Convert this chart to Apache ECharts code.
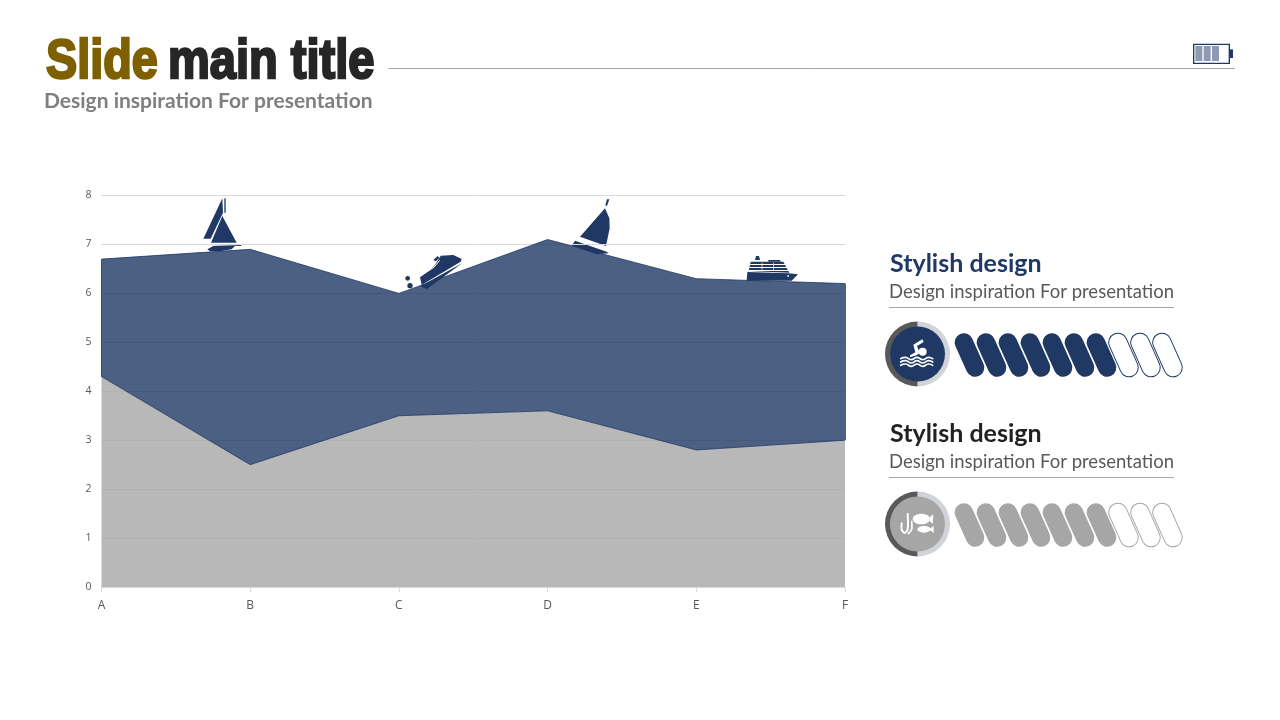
<!DOCTYPE html>
<html><head><meta charset="utf-8">
<style>html,body{margin:0;padding:0;background:#fff}#c{width:1280px;height:720px}</style>
<script src="https://cdn.jsdelivr.net/npm/echarts@6/dist/echarts.min.js"></script></head>
<body><div id="c"></div>
<script>
const categories = ['A','B','C','D','E','F'];
const greyValues = [4.3,2.5,3.5,3.6,2.8,3.0];
const blueValues = [2.4,4.4,2.5,3.5,3.5,3.2];
const yTicks = [0,1,2,3,4,5,6,7,8];
const pillRows = [
  {filled:7,total:10,color:'#1f3864',title:'Stylish design',titleColor:'#1f3864',sub:'Design inspiration For presentation',fill:'#1f3864',dy:0},
  {filled:7,total:10,color:'#a6a6a6',title:'Stylish design',titleColor:'#222222',sub:'Design inspiration For presentation',fill:'#a6a6a6',dy:170}
];
const NAVY='#1f3864';
const chart = echarts.init(document.getElementById('c'),null,{renderer:'canvas'});
const poly=(points,fill)=>({type:'polygon',shape:{points},style:{fill:fill||NAVY}});
const zoomGroup=(ox,oy,children)=>({type:'group',x:ox,y:oy,scaleX:1/3,scaleY:1/3,children});
const rect=(x,y,w,h,fill)=>({type:'rect',shape:{x,y,width:w,height:h},style:{fill:fill||NAVY}});
const circ=(cx,cy,r,fill)=>({type:'circle',shape:{cx,cy,r},style:{fill:fill||NAVY}});
const stroked=(points,stroke,lw,smooth)=>({type:'polyline',shape:{points,smooth:smooth||0},style:{fill:null,stroke,lineWidth:lw,lineJoin:'round',lineCap:'round'}});
const wave=(y)=>stroked([[62,y],[77,y-4],[94,y+3],[111,y-4],[128,y+3],[145,y-4],[158,y]],'#fff',5,0.5);
const txt=(x,y,text,font,fill,sx,extra)=>({type:'text',x,y,scaleX:sx||1,style:Object.assign({text,font,fill,textVerticalAlign:'middle'},extra||{})});

const g=[];
// header
g.push(txt(46,63,'Slide','bold 56px "Liberation Sans"','#7f6000',0.835,{stroke:'#7f6000',lineWidth:2.5}));
g.push(txt(168,63,'main title','bold 56px "Liberation Sans"','#262626',0.84,{stroke:'#262626',lineWidth:2.5}));
g.push(txt(44,101,'Design inspiration For presentation','bold 21px Lato','#7f7f7f',1));
g.push({type:'line',shape:{x1:388,y1:68.5,x2:1235,y2:68.5},style:{stroke:'#a6a6a6',lineWidth:1}});
// battery
g.push(zoomGroup(1170,30,[
  {type:'rect',shape:{x:71,y:43,width:107,height:57},style:{fill:'#fff',stroke:NAVY,lineWidth:4}},
  rect(76,48,21,45,'#8e99b3'),rect(101,48,21,45,'#8e99b3'),rect(126,48,21,45,'#8e99b3'),
  rect(178,58,11,26)
]));
// sailboat 1 and jet ski
g.push(zoomGroup(190,190,[
  poly([[97,25],[99,68],[62,146],[40,146]]),
  rect(103,25,4,43),
  poly([[97,78],[140,158],[63,158]]),
  poly([[60,162],[153,165],[153,168],[60,165]]),
  poly([[52,178],[70,168],[135,168],[125,178],[90,184],[60,184]]),
  poly([[690,262],[720,240],[735,225],[752,197],[790,195],[815,207],[812,215],[695,285]]),
  poly([[816,220],[710,298],[695,290],[692,288]]),
  poly([[730,210],[743,198],[748,203],[738,214]]),
  stroked([[748,212],[732,232],[694,256]],'#fff',3),
  circ(653,265,7),circ(660,287,8)
]));
// sailboat 2 and cruise ship
g.push(zoomGroup(560,190,[
  poly([[141,28],[148,28],[141,48],[136,46]]),
  poly([[135,55],[148,85],[149,115],[138,168],[60,140]]),
  poly([[45,152],[140,185],[146,190],[110,193],[35,167]]),
  poly([[560,272],[562,246],[685,250],[714,253],[695,272]]),
  poly([[566,243],[572,215],[670,215],[688,248]]),
  poly([[585,210],[588,198],[597,198],[600,210]]),
  poly([[625,210],[660,210],[662,215],[625,215]]),
  rect(570,222,112,3,'#fff'),rect(568,231,116,3,'#fff'),rect(566,240,120,3,'#fff'),
  rect(605,218,2,24,'#fff'),rect(640,218,2,24,'#fff'),
  rect(682,256,5,4,'#fff')
]));
// right blocks
pillRows.forEach((row)=>{
  const d=row.dy;
  g.push(txt(890,264+d,row.title,'bold 25px Lato',row.titleColor,1));
  g.push(txt(889,292+d,row.sub,'18.5px Lato','#595959',1));
  g.push({type:'line',shape:{x1:889,y1:307.5+d,x2:1174,y2:307.5+d},style:{stroke:'#a6a6a6',lineWidth:1}});
  const cx=917.5,cy=354+d;
  g.push({type:'sector',shape:{cx,cy,r:32.5,r0:27,startAngle:-Math.PI/2,endAngle:Math.PI/2},style:{fill:'#d0d3d8'}});
  g.push({type:'sector',shape:{cx,cy,r:32.5,r0:27,startAngle:Math.PI/2,endAngle:Math.PI*1.5},style:{fill:'#595959'}});
  g.push(circ(cx,cy,27.5,row.fill));
  for(let i=0;i<row.total;i++){
    const on=i<row.filled;
    g.push({type:'group',x:969.5+i*22,y:355+d,rotation:24*Math.PI/180,children:[
      {type:'rect',shape:{x:-9.2,y:-23,width:18.4,height:46,r:9.2},
       style:on?{fill:row.color}:{fill:'#fff',stroke:row.color,lineWidth:1}}]});
  }
});
// swimmer icon
g.push(zoomGroup(880,240,[
  circ(128,335,12,'#fff'),
  poly([[100,314],[127,298],[131,306],[111,318],[119,338],[110,346],[90,352],[90,346],[106,337]],'#fff'),
  wave(356),wave(366),wave(376)
]));
// fish and hook icon
g.push(zoomGroup(880,410,[
  stroked([[83,312],[83,358],[74,369],[65,358],[65,340]],'#fff',6,0.3),
  stroked([[95,335],[95,358],[85,371]],'#fff',5,0.3),
  {type:'ellipse',shape:{cx:124,cy:327,rx:26,ry:16},style:{fill:'#fff'}},
  poly([[143,327],[160,313],[158,342]],'#fff'),
  {type:'ellipse',shape:{cx:132,cy:358,rx:20,ry:10},style:{fill:'#fff'}},
  poly([[147,358],[161,348],[161,369]],'#fff')
]));

chart.setOption({
  animation:false,
  backgroundColor:'#fff',
  grid:{left:101.5,right:435,top:195.5,bottom:133},
  xAxis:{type:'category',data:categories,boundaryGap:false,
    axisLine:{lineStyle:{color:'#d9d9d9',width:1}},
    axisTick:{show:true,alignWithLabel:true,length:5,lineStyle:{color:'#d9d9d9'}},
    axisLabel:{color:'#595959',fontSize:12,fontFamily:'Open Sans',margin:13,showMinLabel:true,showMaxLabel:true},
    splitLine:{show:false}},
  yAxis:{type:'value',min:yTicks[0],max:yTicks[yTicks.length-1],interval:1,
    axisLine:{show:false},axisTick:{show:false},
    axisLabel:{color:'#595959',fontSize:10.5,fontFamily:'Open Sans',margin:10},
    splitLine:{show:true,lineStyle:{color:'#d9d9d9',width:1}}},
  series:[
    {name:'Grey',type:'line',stack:'total',data:greyValues,symbol:'none',
     lineStyle:{color:NAVY,width:0.8},areaStyle:{color:'#a6a6a6',opacity:0.8},z:2},
    {name:'Blue',type:'line',stack:'total',data:blueValues,symbol:'none',
     lineStyle:{color:NAVY,width:0.8},areaStyle:{color:NAVY,opacity:0.8},z:2,
     markLine:{silent:true,symbol:'none',animation:false,label:{show:false},
       lineStyle:{color:NAVY,width:0.8,type:'solid'},
       data:[[{coord:['F',greyValues[5]]},{coord:['F',greyValues[5]+blueValues[5]]}],
             [{coord:['A',greyValues[0]]},{coord:['A',greyValues[0]+blueValues[0]]}]]}}
  ],
  graphic:{elements:g}
});
</script></body></html>
